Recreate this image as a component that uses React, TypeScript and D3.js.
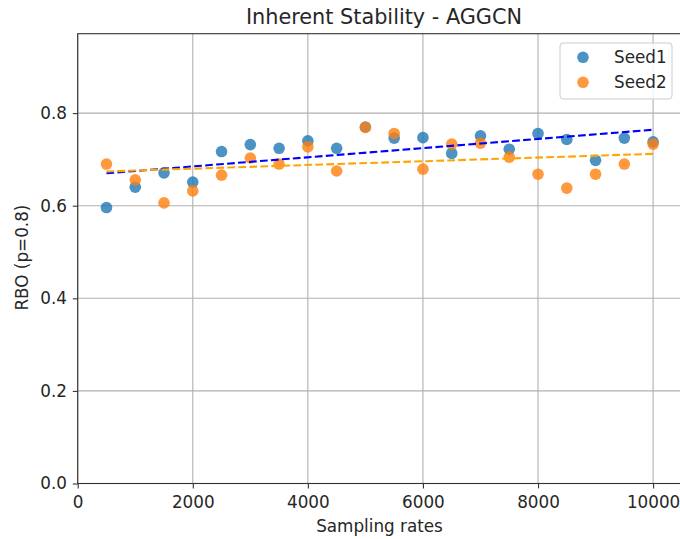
import React, { useRef, useEffect } from "react";
import * as d3 from "d3";

// sampling rates on the x axis
const rates = [500, 1000, 1500, 2000, 2500, 3000, 3500, 4000, 4500, 5000, 5500, 6000, 6500, 7000, 7500, 8000, 8500, 9000, 9500, 10000];
const seed1 = [0.596, 0.64, 0.671, 0.651, 0.717, 0.732, 0.724, 0.74, 0.724, 0.77, 0.746, 0.747, 0.713, 0.751, 0.722, 0.756, 0.743, 0.698, 0.746, 0.738];
const seed2 = [0.69, 0.656, 0.606, 0.632, 0.666, 0.703, 0.69, 0.727, 0.675, 0.769, 0.756, 0.679, 0.733, 0.735, 0.705, 0.668, 0.638, 0.668, 0.69, 0.733];
// fitted trend lines, values at the first and last sampling rate
const trend1 = [0.67, 0.764];
const trend2 = [0.674, 0.712];
const xTicks = [0, 2000, 4000, 6000, 8000, 10000];
const yTicks = [0, 0.2, 0.4, 0.6, 0.8];

const W = 680;
const H = 539;
const margin = { left: 77.7, top: 33.7, bottom: 55.5 };
const FONT = "DejaVu Sans, sans-serif";
const FS = 16.8;

const App = () => {
  const svgRef = useRef(null);

  useEffect(() => {
    const svg = d3.select(svgRef.current);
    svg.selectAll("*").remove();

    // right side of the axes is cut off by the picture edge
    const xScale = d3.scaleLinear().domain([0, 10000]).range([margin.left, margin.left + 575.4]);
    const yScale = d3.scaleLinear().domain([0, 0.9715]).range([H - margin.bottom, margin.top]);
    const x0 = margin.left;
    const x1 = W + 4;
    const [y0, y1] = yScale.range();

    svg.append("rect").attr("width", W).attr("height", H).attr("fill", "white");

    // grid
    svg.append("g")
      .selectAll("line")
      .data(xTicks)
      .join("line")
      .attr("x1", (d) => xScale(d))
      .attr("x2", (d) => xScale(d))
      .attr("y1", y0)
      .attr("y2", y1)
      .attr("stroke", "#b0b0b0")
      .attr("stroke-width", 1.1);
    svg.append("g")
      .selectAll("line")
      .data(yTicks)
      .join("line")
      .attr("x1", x0)
      .attr("x2", x1)
      .attr("y1", (d) => yScale(d))
      .attr("y2", (d) => yScale(d))
      .attr("stroke", "#b0b0b0")
      .attr("stroke-width", 1.1);

    // scatter points
    const series = [
      { values: seed1, color: "#1f77b4" },
      { values: seed2, color: "#ff7f0e" },
    ];
    series.forEach((s) => {
      svg.append("g")
        .selectAll("circle")
        .data(rates)
        .join("circle")
        .attr("cx", (d) => xScale(d))
        .attr("cy", (d, i) => yScale(s.values[i]))
        .attr("r", 5.8)
        .attr("fill", s.color)
        .attr("fill-opacity", 0.8);
    });

    // dashed trend lines
    const line = d3.line().x((d) => xScale(d[0])).y((d) => yScale(d[1]));
    const ends = [rates[0], rates[rates.length - 1]];
    [
      { t: trend1, color: "blue" },
      { t: trend2, color: "orange" },
    ].forEach(({ t, color }) => {
      svg.append("path")
        .attr("d", line(ends.map((x, i) => [x, t[i]])))
        .attr("fill", "none")
        .attr("stroke", color)
        .attr("stroke-width", 2.1)
        .attr("stroke-dasharray", "7.7,3.3");
    });

    // axes
    const xAxis = d3.axisBottom(xScale).tickValues(xTicks).tickSize(4.9).tickPadding(7.5).tickFormat(d3.format("d"));
    const yAxis = d3.axisLeft(yScale).tickValues(yTicks).tickSize(4.9).tickPadding(5.8).tickFormat(d3.format(".1f"));
    const gx = svg.append("g").attr("transform", `translate(0,${y0})`).call(xAxis);
    const gy = svg.append("g").attr("transform", `translate(${x0},0)`).call(yAxis);
    [gx, gy].forEach((g) => {
      g.select(".domain").remove();
      g.selectAll("line").attr("stroke", "#333").attr("stroke-width", 1.1);
      g.selectAll("text").attr("font-family", FONT).attr("font-size", FS).attr("fill", "#262626");
    });

    // spines
    svg.append("rect")
      .attr("x", x0)
      .attr("y", y1)
      .attr("width", x1 - x0)
      .attr("height", y0 - y1)
      .attr("fill", "none")
      .attr("stroke", "#333")
      .attr("stroke-width", 1.1);

    // legend
    const lg = svg.append("g").attr("transform", "translate(560,43)");
    lg.append("rect")
      .attr("width", 112)
      .attr("height", 56)
      .attr("rx", 3)
      .attr("fill", "white")
      .attr("fill-opacity", 0.8)
      .attr("stroke", "#cccccc");
    ["Seed1", "Seed2"].forEach((name, i) => {
      lg.append("circle")
        .attr("cx", 23)
        .attr("cy", 14.3 + i * 25)
        .attr("r", 5.8)
        .attr("fill", series[i].color)
        .attr("fill-opacity", 0.8);
      lg.append("text")
        .attr("x", 54)
        .attr("y", 19.5 + i * 25)
        .attr("font-family", FONT)
        .attr("font-size", FS)
        .attr("fill", "#262626")
        .text(name);
    });

    // labels
    svg.append("text")
      .attr("x", 384)
      .attr("y", 23.5)
      .attr("text-anchor", "middle")
      .attr("font-family", FONT)
      .attr("font-size", 20.8)
      .attr("fill", "#262626")
      .text("Inherent Stability - AGGCN");
    svg.append("text")
      .attr("x", 379.5)
      .attr("y", 531.5)
      .attr("text-anchor", "middle")
      .attr("font-family", FONT)
      .attr("font-size", FS)
      .attr("fill", "#262626")
      .text("Sampling rates");
    svg.append("text")
      .attr("transform", `translate(27.5,${(y0 + y1) / 2 - 1}) rotate(-90)`)
      .attr("text-anchor", "middle")
      .attr("font-family", FONT)
      .attr("font-size", FS)
      .attr("fill", "#262626")
      .text("RBO (p=0.8)");
  }, []);

  return (
    <div style={{ position: "absolute", left: 0, top: 0 }}>
      <svg ref={svgRef} width={W} height={H} style={{ display: "block" }} />
    </div>
  );
};

export default App;
